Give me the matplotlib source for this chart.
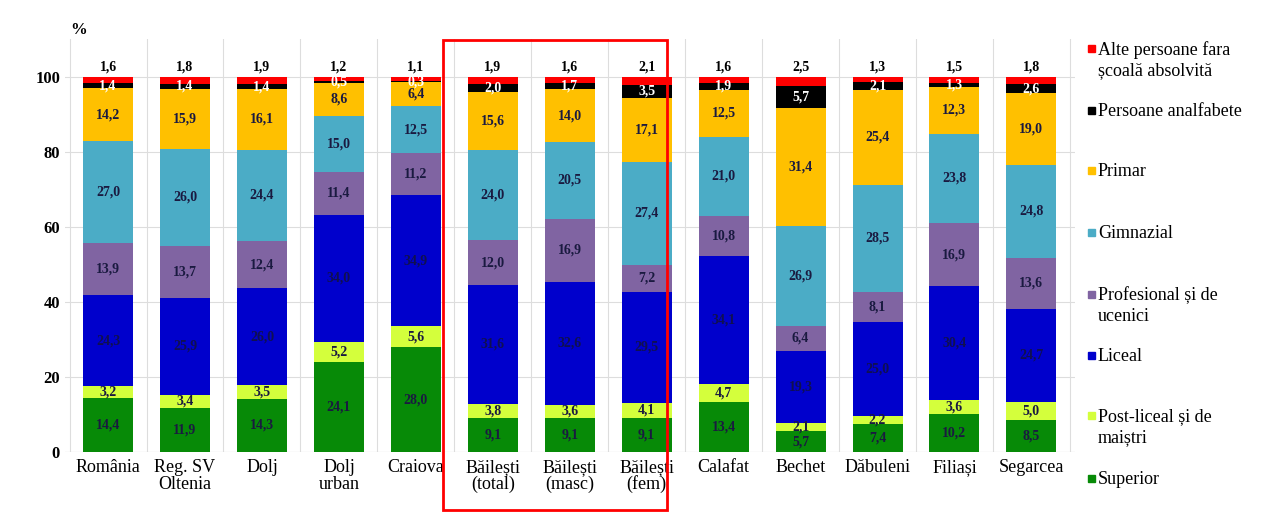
import matplotlib.pyplot as plt
import matplotlib.patches as mpatches
import numpy as np

plt.rcParams['font.family'] = ['Liberation Serif', 'DejaVu Serif']

categories = ['România', 'Reg. SV\nOltenia', 'Dolj', 'Dolj\nurban', 'Craiova',
              'Băilești\n(total)', 'Băilești\n(masc)', 'Băilești\n(fem)',
              'Calafat', 'Bechet', 'Dăbuleni', 'Filiași', 'Segarcea']

superior = [14.4, 11.9, 14.3, 24.1, 28.0, 9.1, 9.1, 9.1, 13.4, 5.7, 7.4, 10.2, 8.5]
post_liceal = [3.2, 3.4, 3.5, 5.2, 5.6, 3.8, 3.6, 4.1, 4.7, 2.1, 2.2, 3.6, 5.0]
liceal = [24.3, 25.9, 26.0, 34.0, 34.9, 31.6, 32.6, 29.5, 34.1, 19.3, 25.0, 30.4, 24.7]
profesional = [13.9, 13.7, 12.4, 11.4, 11.2, 12.0, 16.9, 7.2, 10.8, 6.4, 8.1, 16.9, 13.6]
gimnazial = [27.0, 26.0, 24.4, 15.0, 12.5, 24.0, 20.5, 27.4, 21.0, 26.9, 28.5, 23.8, 24.8]
primar = [14.2, 15.9, 16.1, 8.6, 6.4, 15.6, 14.0, 17.1, 12.5, 31.4, 25.4, 12.3, 19.0]
analfabete = [1.4, 1.4, 1.4, 0.5, 0.3, 2.0, 1.7, 3.5, 1.9, 5.7, 2.1, 1.3, 2.6]
alte = [1.6, 1.8, 1.9, 1.2, 1.1, 1.9, 1.6, 2.1, 1.6, 2.5, 1.3, 1.5, 1.8]

series = [
    ('Superior', superior, '#078A07', '#1a1a40'),
    ('Post-liceal și de\nmaiștri', post_liceal, '#D4FF3C', '#1a1a40'),
    ('Liceal', liceal, '#0000CC', '#101050'),
    ('Profesional și de\nucenici', profesional, '#8064A2', '#1a1a40'),
    ('Gimnazial', gimnazial, '#4BACC6', '#1a1a40'),
    ('Primar', primar, '#FFC000', '#1a1a40'),
    ('Persoane analfabete', analfabete, '#000000', 'white'),
    ('Alte persoane fara\nșcoală absolvită', alte, '#FF0000', 'black'),
]

fig = plt.figure(figsize=(12.74, 5.18), dpi=100)
ax = fig.add_axes([0.051, 0.127, 0.793, 0.797])

x = np.arange(len(categories))
bottom = np.zeros(len(categories))
for name, vals, color, tcolor in series:
    vals = np.array(vals)
    ax.bar(x, vals, 0.65, bottom=bottom, color=color, zorder=3)
    for i, v in enumerate(vals):
        lab = f'{v:.1f}'.replace('.', ',')
        if name.startswith('Alte'):
            ax.text(x[i], 101.0, lab, ha='center', va='bottom', fontsize=10,
                    fontweight='bold', color='black', zorder=4)
        else:
            ax.text(x[i], bottom[i] + v / 2, lab, ha='center', va='center',
                    fontsize=10, fontweight='bold', color=tcolor, zorder=4)
    bottom += vals

ax.set_xlim(-0.56, len(categories) - 0.43)
ax.set_ylim(0, 110)
ax.set_yticks([0, 20, 40, 60, 80, 100])
ax.set_yticklabels(['0', '20', '40', '60', '80', '100'], fontweight='bold', fontsize=12)
ax.set_xticks(x)
ax.set_xticklabels(categories, fontsize=13, linespacing=0.95)
ax.set_xticks(np.arange(len(categories) + 1) - 0.5, minor=True)
ax.tick_params(axis='both', which='both', length=0)
ax.tick_params(axis='x', pad=5)
ax.grid(axis='y', color='#dddddd', linewidth=0.8, zorder=0)
ax.grid(axis='x', which='minor', color='#dddddd', linewidth=0.8, zorder=0)
for s in ax.spines.values():
    s.set_visible(False)
ax.axhline(0, color='#cccccc', linewidth=0.8, zorder=2)

fig.text(0.055, 0.935, '%', fontsize=12, fontweight='bold')

# red highlight box around Băilești bars
fig.patches.append(mpatches.Rectangle((443 / 1274, 1 - 510 / 518), 224 / 1274, 470 / 518,
                                      transform=fig.transFigure, fill=False,
                                      edgecolor='#FF0000', linewidth=2))

# legend, drawn top to bottom
legend_y = [48, 110, 170, 232, 294, 355, 415, 478]
for (name, vals, color, tcolor), yy in zip(series[::-1], legend_y):
    yf = 1 - yy / 518
    fig.patches.append(mpatches.Rectangle((1088 / 1274, yf - 0.007), 7 / 1274, 7 / 518,
                                          transform=fig.transFigure, color=color))
    fig.text(1098 / 1274, yf + 0.014, name, fontsize=13, va='top', linespacing=1.3)

fig.savefig('out.png', dpi=100)
